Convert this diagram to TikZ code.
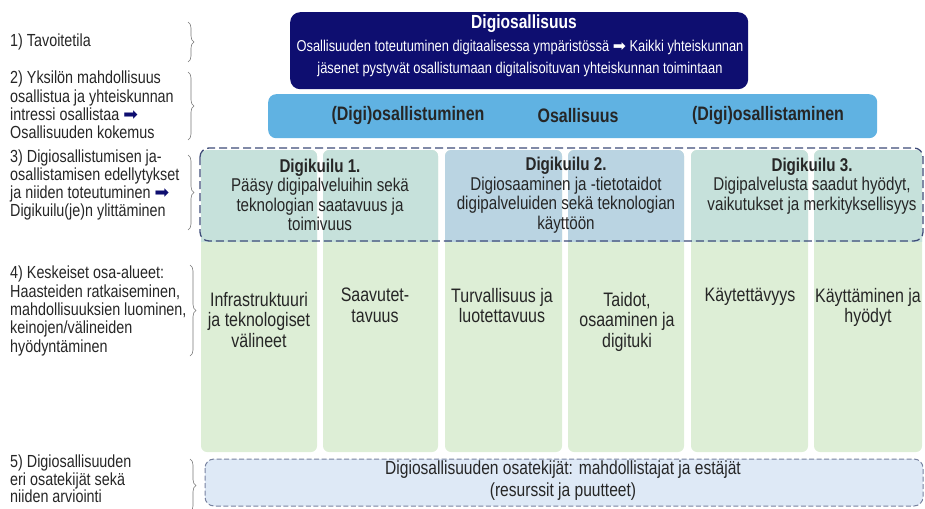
\documentclass[tikz,border=0pt]{standalone}
\usepackage{fontspec}
\setmainfont{Liberation Sans}[FakeStretch=0.82]
\newfontfamily\symfont{DejaVu Sans}
\usetikzlibrary{decorations.pathreplacing}
\definecolor{navy}{RGB}{14,14,112}
\definecolor{barblue}{RGB}{96,178,226}
\definecolor{colgreen}{RGB}{221,238,214}
\definecolor{gapteal}{RGB}{198,225,219}
\definecolor{gapblue}{RGB}{186,212,226}
\definecolor{dashcol}{RGB}{62,76,120}
\definecolor{botfill}{RGB}{222,233,246}
\definecolor{bracegray}{RGB}{120,120,120}
\newcommand{\rarrow}{{\symfont\char"27A1}}
\tikzset{
  lbl/.style={anchor=west,align=left,font=\fontsize{17.5}{18.3}\selectfont,text=black!85,inner sep=0pt},
  brc/.style={decorate,decoration={brace,amplitude=6pt},draw=bracegray,line width=0.6pt},
  coltxt/.style={align=center,font=\fontsize{19.5}{20.5}\selectfont,text=black!85,inner sep=0pt},
  bottxt/.style={align=center,font=\fontsize{19}{22}\selectfont,text=black!85,inner sep=0pt},
  gaptxt/.style={align=center,font=\fontsize{18.5}{19.5}\selectfont,text=black!85,inner sep=0pt},
  bartxt/.style={font=\bfseries\fontsize{19.5}{20}\selectfont,text=black!85,inner sep=0pt},
  dbox/.style={draw=dashcol,dashed,dash pattern=on 8pt off 4pt,line width=1.3pt,rounded corners=9pt}
}
\begin{document}
\begin{tikzpicture}[x=1pt,y=-1pt]
\useasboundingbox (0,0) rectangle (925,508);
% top box
\node[fill=navy,rounded corners=10pt,minimum width=458pt,minimum height=77pt,anchor=north west] (top) at (290,12) {};
\node[text=white,font=\bfseries\fontsize{19}{20}\selectfont,inner sep=0pt] (toptitle) at (524,24) {Digiosallisuus};
\node[text=white,align=center,font=\fontsize{15.7}{22}\selectfont,inner sep=0pt] (topsub) at (520,58) {Osallisuuden toteutuminen digitaalisessa ympäristössä \rarrow{} Kaikki yhteiskunnan\\ jäsenet pystyvät osallistumaan digitalisoituvan yhteiskunnan toimintaan};
% bar
\node[fill=barblue,rounded corners=8pt,minimum width=609pt,minimum height=44pt,anchor=north west] (bar) at (268,94) {};
\node[bartxt] (b1) at (408,116) {(Digi)osallistuminen};
\node[bartxt] (b2) at (578,116) {Osallisuus};
\node[bartxt] (b3) at (768,116) {(Digi)osallistaminen};
% columns
\foreach \xa/\xb/\c [count=\i] in {201/317/gapteal,323/438/gapteal,445/562/gapblue,568/684/gapblue,691/808/gapteal,814/922/gapteal}{
  \fill[colgreen,rounded corners=6pt] (\xa,150) rectangle (\xb,452);
  \begin{scope}
    \clip (\xa,150) rectangle (\xb,241);
    \fill[\c,rounded corners=6pt] (\xa,150) rectangle (\xb,260);
  \end{scope}
}
% dashed box
\draw[dbox] (200,148) rectangle (923,241);
\node[gaptxt] (g1) at (320,195) {\textbf{Digikuilu 1.}\\Pääsy digipalveluihin sekä\\teknologian saatavuus ja\\toimivuus};
\node[gaptxt] (g2) at (566,195) {\textbf{Digikuilu 2.}\\Digiosaaminen ja -tietotaidot\\digipalveluiden sekä teknologian\\käyttöön};
\node[gaptxt] (g3) at (812,186) {\textbf{Digikuilu 3.}\\Digipalvelusta saadut hyödyt,\\vaikutukset ja merkityksellisyys};
% column texts
\node[coltxt,anchor=north] (c1) at (259,292) {Infrastruktuuri\\ja teknologiset\\välineet};
\node[coltxt,anchor=north] (c2) at (375,288) {Saavutet-\\tavuus};
\node[coltxt,anchor=north] (c3) at (502,288) {Turvallisuus ja\\luotettavuus};
\node[coltxt,anchor=north] (c4) at (627,292) {Taidot,\\osaaminen ja\\digituki};
\node[coltxt,anchor=north] (c5) at (750,288) {Käytettävyys};
\node[coltxt,anchor=north] (c6) at (868,288) {Käyttäminen ja\\hyödyt};
% bottom box
\draw[dbox,fill=botfill,dash pattern=on 5pt off 2.5pt,line width=1pt,draw=dashcol!70] (205,459) rectangle (923,506);
\node[bottxt] (bot) at (563,481) {Digiosallisuuden osatekijät: mahdollistajat ja estäjät\\(resurssit ja puutteet)};
% left labels
\node[lbl] (l1) at (10,42) {1) Tavoitetila};
\node[lbl] (l2) at (10,105) {2) Yksilön mahdollisuus\\osallistua ja yhteiskunnan\\intressi osallistaa \textcolor{navy}{\rarrow}\\Osallisuuden kokemus};
\node[lbl] (l3) at (10,185) {3) Digiosallistumisen ja-\\osallistamisen edellytykset\\ja niiden toteutuminen \textcolor{navy}{\rarrow}\\Digikuilu(je)n ylittäminen};
\node[lbl] (l4) at (10,311) {4) Keskeiset osa-alueet:\\Haasteiden ratkaiseminen,\\mahdollisuuksien luominen,\\keinojen/välineiden\\hyödyntäminen};
\node[lbl,font=\fontsize{17.5}{17.5}\selectfont] (l5) at (10,479) {5) Digiosallisuuden\\eri osatekijät sekä\\niiden arviointi};
% braces
\coordinate (br1a) at (188,22); \coordinate (br1b) at (188,62);
\coordinate (br2a) at (188,72); \coordinate (br2b) at (188,140);
\coordinate (br3a) at (188,155); \coordinate (br3b) at (188,230);
\coordinate (br4a) at (190,265); \coordinate (br4b) at (190,356);
\coordinate (br5a) at (190,459); \coordinate (br5b) at (190,512);
\draw[brc] (br1a) -- (br1b);
\draw[brc] (br2a) -- (br2b);
\draw[brc] (br3a) -- (br3b);
\draw[brc] (br4a) -- (br4b);
\draw[brc] (br5a) -- (br5b);
\end{tikzpicture}
\end{document}
